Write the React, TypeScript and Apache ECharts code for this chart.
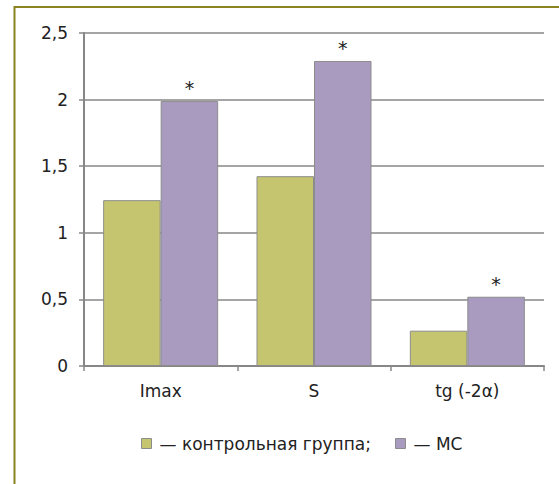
import React, { useEffect, useRef } from "react";
import * as echarts from "echarts";

const categories = ["Imax", "S", "tg (-2α)"];
const controlValues = [1.245, 1.425, 0.265];
const msValues = [1.99, 2.29, 0.52];
const seriesNames = ["— контрольная группа;", "— МС"];
const yTicks = [0, 0.5, 1, 1.5, 2, 2.5];

export default function App() {
  const ref = useRef<HTMLDivElement>(null);
  useEffect(() => {
    if (!ref.current) return;
    const chart = echarts.init(ref.current, undefined, { renderer: "svg" });
    const font = "'DejaVu Sans', sans-serif";
    chart.setOption({
      animation: false,
      backgroundColor: "#ffffff",
      textStyle: { fontFamily: font },
      graphic: [
        { type: "line", shape: { x1: 14, y1: 7, x2: 559, y2: 7 }, style: { stroke: "#8a8420", lineWidth: 2 } },
        { type: "line", shape: { x1: 14.5, y1: 6, x2: 14.5, y2: 484 }, style: { stroke: "#8a8420", lineWidth: 2 } },
      ],
      legend: {
        top: 435,
        left: 141,
        padding: 0,
        itemWidth: 10,
        itemHeight: 10,
        itemGap: 24,
        icon: "rect",
        textStyle: { fontSize: 17, color: "#222", fontFamily: font, padding: [0, 0, 0, 3] },
        data: seriesNames.map((n) => ({ name: n, itemStyle: { borderColor: "#8c8c8c", borderWidth: 1 } })),
      },
      grid: { left: 84, right: 15, top: 33, bottom: 118 },
      xAxis: {
        type: "category",
        data: categories,
        axisLine: { lineStyle: { color: "#878787", width: 2 } },
        axisTick: { show: true, length: 5, lineStyle: { color: "#878787", width: 1.5 } },
        axisLabel: { fontSize: 17, color: "#222", margin: 16, fontFamily: font },
      },
      yAxis: {
        type: "value",
        min: 0,
        max: 2.5,
        interval: 0.5,
        axisLine: { show: true, lineStyle: { color: "#878787", width: 2 } },
        axisTick: { show: true, length: 5, lineStyle: { color: "#878787", width: 1.5 } },
        splitLine: { lineStyle: { color: "#878787", width: 1.6 } },
        axisLabel: {
          fontSize: 17,
          color: "#222",
          margin: 16,
          fontFamily: font,
          formatter: (v: number) => (yTicks.includes(v) ? String(v).replace(".", ",") : ""),
        },
      },
      series: [
        {
          name: seriesNames[0],
          type: "bar",
          data: controlValues,
          barGap: "0%",
          barCategoryGap: "25%",
          itemStyle: { color: "#c6c56f", borderColor: "#8c8c8c", borderWidth: 1 },
        },
        {
          name: seriesNames[1],
          type: "bar",
          data: msValues,
          barGap: "0%",
          barCategoryGap: "25%",
          itemStyle: { color: "#a89bbf", borderColor: "#8c8c8c", borderWidth: 1 },
          label: {
            show: true,
            position: "top",
            formatter: "*",
            fontSize: 19,
            color: "#222",
            distance: 3,
            fontFamily: font,
          },
        },
      ],
    });
    return () => chart.dispose();
  }, []);
  return (
    <div
      ref={ref}
      style={{ position: "fixed", left: 0, top: 0, width: 559, height: 484 }}
    />
  );
}
